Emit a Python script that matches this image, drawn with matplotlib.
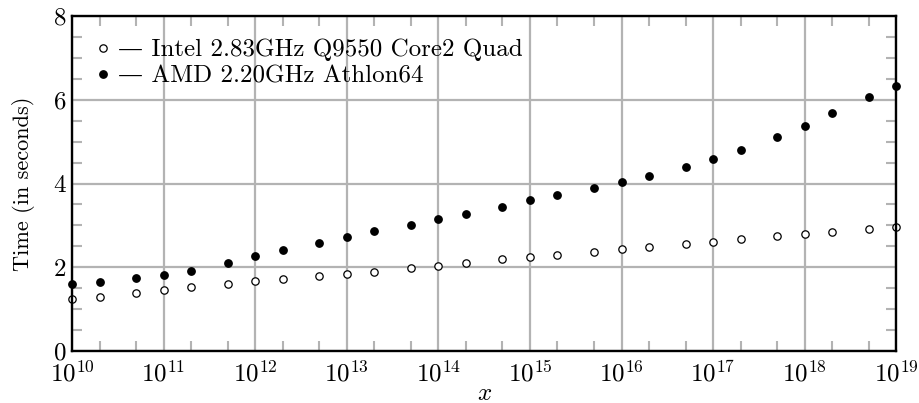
import matplotlib
matplotlib.use("Agg")
import matplotlib.pyplot as plt
from matplotlib.ticker import LogLocator, MultipleLocator, NullFormatter

plt.rcParams['font.family'] = ['cmr10', 'DejaVu Serif']
plt.rcParams['mathtext.fontset'] = 'cm'
plt.rcParams['axes.formatter.use_mathtext'] = True
plt.rcParams['axes.unicode_minus'] = False

x_values = [1e10, 2e10, 5e10, 1e11, 2e11, 5e11, 1e12, 2e12, 5e12, 1e13, 2e13, 5e13,
            1e14, 2e14, 5e14, 1e15, 2e15, 5e15, 1e16, 2e16, 5e16, 1e17, 2e17, 5e17,
            1e18, 2e18, 5e18, 1e19]
intel_times = [1.25, 1.29, 1.38, 1.46, 1.53, 1.60, 1.67, 1.72, 1.79, 1.84, 1.89, 1.98,
               2.04, 2.11, 2.20, 2.24, 2.30, 2.36, 2.43, 2.48, 2.55, 2.60, 2.67, 2.75,
               2.79, 2.84, 2.91, 2.97]
amd_times = [1.61, 1.65, 1.75, 1.82, 1.92, 2.11, 2.27, 2.42, 2.58, 2.73, 2.87, 3.01,
             3.16, 3.28, 3.44, 3.61, 3.72, 3.90, 4.04, 4.18, 4.40, 4.58, 4.80, 5.11,
             5.38, 5.69, 6.07, 6.33]
series_labels = ['— Intel 2.83GHz Q9550 Core2 Quad', '— AMD 2.20GHz Athlon64']

fig = plt.figure(figsize=(9.19, 4.03), dpi=100)
ax = fig.add_axes([0.0783, 0.129, 0.897, 0.831])

grid_color = '#b3b3b3'
ax.plot(x_values, intel_times, linestyle='none', marker='o', markersize=5.3,
        markerfacecolor='white', markeredgecolor='black', markeredgewidth=0.9,
        label=series_labels[0], zorder=3, clip_on=False)
ax.plot(x_values, amd_times, linestyle='none', marker='o', markersize=5.3,
        markerfacecolor='black', markeredgecolor='black',
        label=series_labels[1], zorder=3, clip_on=False)

ax.set_xscale('log')
ax.set_xlim(1e10, 1e19)
ax.set_ylim(0, 8)
ax.xaxis.set_major_locator(LogLocator(base=10, numticks=20))
ax.xaxis.set_minor_locator(LogLocator(base=10, subs=(2.0, 5.0), numticks=20))
ax.xaxis.set_minor_formatter(NullFormatter())
ax.yaxis.set_major_locator(MultipleLocator(2))
ax.yaxis.set_minor_locator(MultipleLocator(0.5))

ax.grid(True, which='major', color=grid_color, linewidth=1.6)
ax.set_axisbelow(True)
ax.tick_params(which='both', direction='in', top=True, right=True,
               color=grid_color, width=1.5, labelsize=18)
ax.tick_params(axis='x', which='both', pad=7)
ax.tick_params(axis='y', which='both', pad=4)
ax.tick_params(which='major', length=0)
ax.tick_params(which='minor', length=7)
for s in ax.spines.values():
    s.set_linewidth(1.7)
    s.set_color('black')
    s.set_zorder(4)

ax.set_xlabel('$x$', fontsize=18, labelpad=-3)
ax.set_ylabel('Time (in seconds)', fontsize=16, labelpad=13)

leg = ax.legend(loc='upper left', frameon=False, fontsize=18, handlelength=0.6,
                handletextpad=0.3, labelspacing=0.15, borderaxespad=0.0,
                bbox_to_anchor=(0.016, 0.962))

fig.savefig('out.png', dpi=100)
